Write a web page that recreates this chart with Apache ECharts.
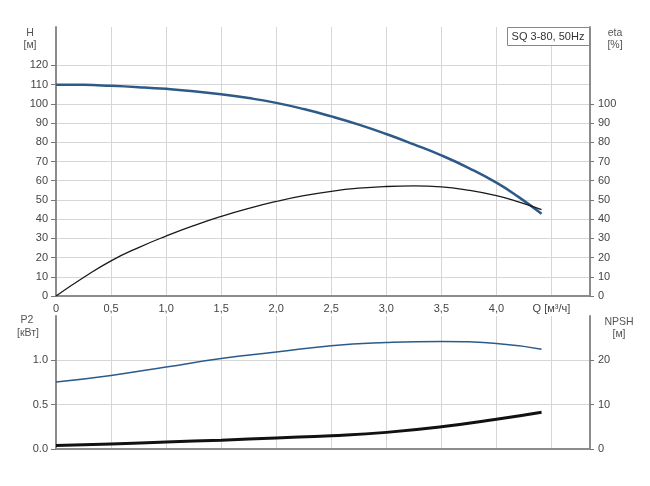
<!DOCTYPE html>
<html>
<head>
<meta charset="utf-8">
<script src="https://cdn.jsdelivr.net/npm/echarts@6/dist/echarts.min.js"></script>
<style>html,body{margin:0;padding:0;background:#fff}#c{width:650px;height:486px}</style>
</head>
<body>
<div id="c"></div>
<script>
// Q values (m³/h) and curve values
const qH = [0, 0.25, 0.5, 0.75, 1.0, 1.25, 1.5, 1.75, 2.0, 2.25, 2.5, 2.75, 3.0, 3.25, 3.5, 3.75, 4.0, 4.2, 4.41];
const headH = [110, 109.9, 109.4, 108.7, 107.8, 106.6, 105, 103, 100.5, 97.3, 93.5, 89.2, 84.3, 78.9, 73.2, 66.6, 59, 51.6, 42.8];

const qEta = [0, 0.25, 0.5, 0.75, 1.0, 1.25, 1.5, 1.75, 2.0, 2.25, 2.5, 2.75, 3.0, 3.25, 3.5, 3.75, 4.0, 4.2, 4.41];
const eta = [0, 9.6, 18.3, 25.2, 31.2, 36.6, 41.4, 45.6, 49.2, 52.2, 54.5, 56.1, 57, 57.3, 56.8, 55, 52.2, 49, 45];

const qP2 = [0, 0.5, 1.0, 1.5, 2.0, 2.5, 3.0, 3.5, 4.0, 4.41];
const p2 = [0.755, 0.83, 0.925, 1.02, 1.093, 1.165, 1.2, 1.213, 1.19, 1.125];

const qNpsh = [0, 0.5, 1.0, 1.5, 2.0, 2.5, 3.0, 3.5, 4.0, 4.41];
const npsh = [0.8, 1.1, 1.6, 2.0, 2.5, 3.0, 3.75, 5.0, 6.7, 8.3];

const qTicks = [0, 0.5, 1.0, 1.5, 2.0, 2.5, 3.0, 3.5, 4.0, 4.5];
const hTicks = [0, 10, 20, 30, 40, 50, 60, 70, 80, 90, 100, 110, 120];
const etaTicks = [0, 10, 20, 30, 40, 50, 60, 70, 80, 90, 100];
const p2Ticks = [0, 0.5, 1.0];
const npshTicks = [0, 10, 20];
const qAxisTitle = 'Q [м³/ч]';
const chartTitle = 'SQ 3-80, 50Hz';

const pairs = (xs, ys) => xs.map((x, i) => [x, ys[i]]);

const axisLineStyle = { color: '#8c8c8c', width: 2 };
const gridLineStyle = { color: '#d6d6d6', width: 1 };
const labelStyle = { color: '#444', fontSize: 11, fontFamily: 'Arial, Liberation Sans, sans-serif' };
const nameStyle = { fill: '#555', fontSize: 10.5, fontFamily: 'Arial, Liberation Sans, sans-serif', align: 'center', verticalAlign: 'middle' };

const chart = echarts.init(document.getElementById('c'), null, { renderer: 'canvas' });
chart.setOption({
  animation: false,
  backgroundColor: '#fff',
  grid: [
    { left: 56, top: 27, width: 534, height: 269 },
    { left: 56, top: 316, width: 534, height: 133 }
  ],
  xAxis: [
    {
      type: 'value', gridIndex: 0, min: 0, max: 4.85, interval: 0.5,
      axisLine: { show: true, lineStyle: axisLineStyle },
      axisTick: { show: false },
      splitLine: { show: true, lineStyle: gridLineStyle },
      axisLabel: Object.assign({}, labelStyle, {
        margin: 7,
        customValues: qTicks,
        formatter: v => Math.abs(v - 4.5) < 1e-6 ? qAxisTitle : (v === 0 ? '0' : v.toFixed(1).replace('.', ','))
      })
    },
    {
      type: 'value', gridIndex: 1, min: 0, max: 4.85, interval: 0.5,
      axisLine: { show: true, lineStyle: axisLineStyle },
      axisTick: { show: false },
      splitLine: { show: true, lineStyle: gridLineStyle },
      axisLabel: { show: false }
    }
  ],
  yAxis: [
    {
      type: 'value', gridIndex: 0, position: 'left', min: 0, max: 140, interval: 10,
      axisLine: { show: true, lineStyle: axisLineStyle },
      axisTick: { show: true, length: 5, customValues: hTicks, lineStyle: { color: '#777' } },
      splitLine: { show: true, lineStyle: gridLineStyle },
      axisLabel: Object.assign({}, labelStyle, { margin: 8, customValues: hTicks })
    },
    {
      type: 'value', gridIndex: 0, position: 'right', min: 0, max: 140, interval: 10,
      axisLine: { show: true, lineStyle: axisLineStyle },
      axisTick: { show: true, length: 4, customValues: etaTicks, lineStyle: { color: '#777' } },
      splitLine: { show: false },
      axisLabel: Object.assign({}, labelStyle, { margin: 8, customValues: etaTicks })
    },
    {
      type: 'value', gridIndex: 1, position: 'left', min: 0, max: 1.5, interval: 0.5,
      axisLine: { show: true, lineStyle: axisLineStyle },
      axisTick: { show: true, length: 5, customValues: p2Ticks, lineStyle: { color: '#777' } },
      splitLine: { show: true, lineStyle: gridLineStyle },
      axisLabel: Object.assign({}, labelStyle, { margin: 8, customValues: p2Ticks, formatter: v => v.toFixed(1) })
    },
    {
      type: 'value', gridIndex: 1, position: 'right', min: 0, max: 30, interval: 10,
      axisLine: { show: true, lineStyle: axisLineStyle },
      axisTick: { show: true, length: 4, customValues: npshTicks, lineStyle: { color: '#777' } },
      splitLine: { show: false },
      axisLabel: Object.assign({}, labelStyle, { margin: 8, customValues: npshTicks })
    }
  ],
  series: [
    { name: 'H', type: 'line', xAxisIndex: 0, yAxisIndex: 0, data: pairs(qH, headH), smooth: 0.5, symbol: 'none',
      lineStyle: { color: '#2d5a87', width: 2.5 } },
    { name: 'eta', type: 'line', xAxisIndex: 0, yAxisIndex: 1, data: pairs(qEta, eta), smooth: 0.5, symbol: 'none',
      lineStyle: { color: '#1a1a1a', width: 1.3 } },
    { name: 'P2', type: 'line', xAxisIndex: 1, yAxisIndex: 2, data: pairs(qP2, p2), smooth: 0.5, symbol: 'none',
      lineStyle: { color: '#2b5b8b', width: 1.5 } },
    { name: 'NPSH', type: 'line', xAxisIndex: 1, yAxisIndex: 3, data: pairs(qNpsh, npsh), smooth: 0.5, symbol: 'none',
      lineStyle: { color: '#111', width: 3 } }
  ],
  graphic: [
    { type: 'text', x: 30, y: 33, style: Object.assign({ text: 'H' }, nameStyle) },
    { type: 'text', x: 30, y: 45, style: Object.assign({ text: '[м]' }, nameStyle) },
    { type: 'text', x: 615, y: 33, style: Object.assign({ text: 'eta' }, nameStyle) },
    { type: 'text', x: 615, y: 45, style: Object.assign({ text: '[%]' }, nameStyle) },
    { type: 'text', x: 27, y: 320, style: Object.assign({ text: 'P2' }, nameStyle) },
    { type: 'text', x: 28, y: 333, style: Object.assign({ text: '[кВт]' }, nameStyle) },
    { type: 'text', x: 619, y: 322, style: Object.assign({ text: 'NPSH' }, nameStyle) },
    { type: 'text', x: 619, y: 334, style: Object.assign({ text: '[м]' }, nameStyle) },
    { type: 'rect', shape: { x: 507.5, y: 27.5, width: 82, height: 18 }, style: { fill: '#fff', stroke: '#888', lineWidth: 1 }, z: 10 },
    { type: 'text', x: 548, y: 37, z: 11, style: { text: chartTitle, fill: '#333', fontSize: 11, fontFamily: 'Arial, Liberation Sans, sans-serif', align: 'center', verticalAlign: 'middle' } }
  ]
});
</script>
</body>
</html>
